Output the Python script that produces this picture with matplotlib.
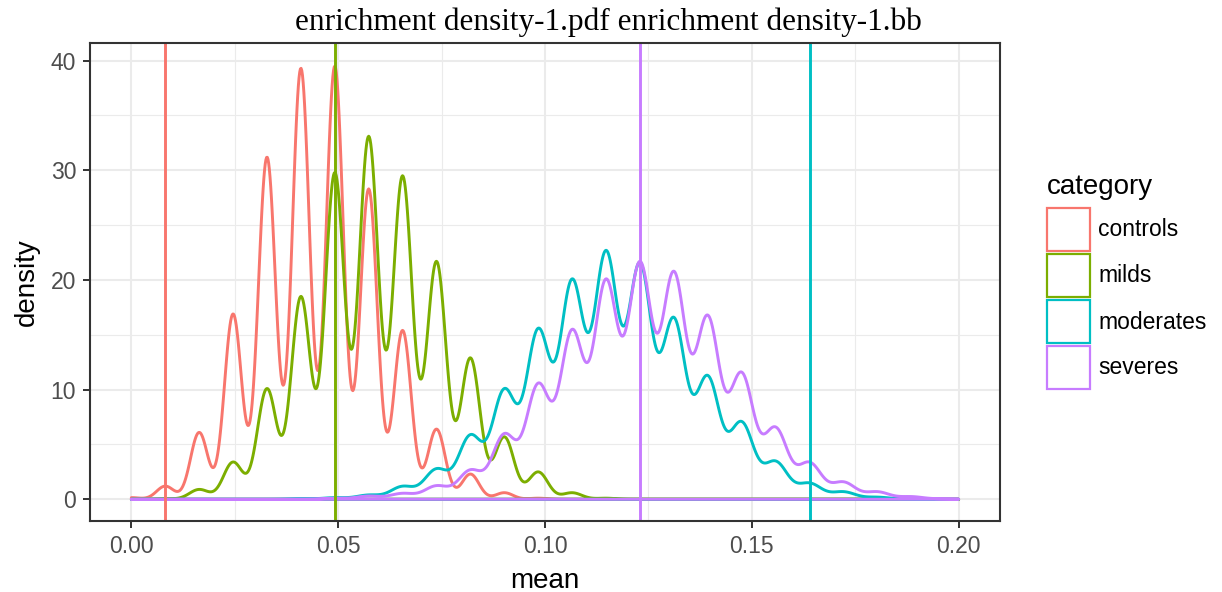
import numpy as np
import matplotlib
matplotlib.use("Agg")
import matplotlib.pyplot as plt
from matplotlib.patches import Rectangle

# curve height read at each peak (peaks sit on a grid of k/122)
categories = ["controls", "milds", "moderates", "severes"]
colors = ["#F8766D", "#7CAE00", "#00BFC4", "#C77CFF"]

controls_k = [0, 1, 2, 3, 4, 5, 6, 7, 8, 9, 10, 11, 12]
controls_y = [0.15, 1.2, 6.1, 16.9, 31.2, 39.3, 39.5, 28.3, 15.4, 6.4, 2.3, 0.6, 0.1]

milds_k = [1, 2, 3, 4, 5, 6, 7, 8, 9, 10, 11, 12, 13, 14]
milds_y = [0.05, 0.9, 3.4, 10.1, 18.5, 29.8, 33.1, 29.5, 21.7, 12.9, 5.7, 2.5, 0.6, 0.1]

moderates_k = [5, 6, 7, 8, 9, 10, 11, 12, 13, 14, 15, 16, 17, 18, 19, 20, 21, 22, 23]
moderates_y = [0.05, 0.15, 0.4, 1.2, 2.8, 5.9, 10.1, 15.6, 20.1, 22.7, 21.6, 16.6,
               11.3, 7.1, 3.5, 1.5, 0.7, 0.2, 0.05]

severes_k = [6, 7, 8, 9, 10, 11, 12, 13, 14, 15, 16, 17, 18, 19, 20, 21, 22, 23, 24]
severes_y = [0.1, 0.3, 0.55, 1.25, 2.7, 6.0, 10.6, 15.5, 20.1, 21.7, 20.8, 16.8,
             11.6, 6.6, 3.4, 1.6, 0.7, 0.25, 0.05]

# kernel width per group (each group gets its own bandwidth)
bandwidths = [0.0021, 0.00235, 0.0029, 0.0029]

# vertical reference lines
vline_x = [0.0082, 0.0492, 0.164, 0.123]

step = 1 / 122
xs = np.linspace(0, 0.2, 1200)


def density_curve(ks, ys, h):
    centers = np.array(ks) * step
    M = np.exp(-(centers[:, None] - centers[None, :]) ** 2 / (2 * h ** 2))
    amps = np.linalg.solve(M, np.array(ys))
    return (amps[None, :] * np.exp(-(xs[:, None] - centers[None, :]) ** 2 / (2 * h ** 2))).sum(axis=1)


groups = [(controls_k, controls_y), (milds_k, milds_y),
          (moderates_k, moderates_y), (severes_k, severes_y)]

plt.rcParams['font.family'] = ['Liberation Sans', 'DejaVu Sans']

fig = plt.figure(figsize=(12.22, 5.92), dpi=100)
ax = fig.add_axes([90 / 1222, 1 - 521 / 592, 910 / 1222, 478 / 592])

# outline of each density area, closed along y = 0 like geom_density
for (ks, ys), h, c in zip(groups, bandwidths, colors):
    dens = density_curve(ks, ys, h)
    px = np.concatenate([xs, [xs[-1], xs[0]]])
    py = np.concatenate([dens, [0, 0]])
    ax.fill(px, py, facecolor='none', edgecolor=c, lw=2.1, joinstyle='round')

for x, c in zip(vline_x, colors):
    ax.axvline(x, color=c, lw=2.1)

ax.set_xlim(-0.01, 0.21)
ax.set_ylim(-1.98, 41.6)
ax.set_xticks([0, 0.05, 0.1, 0.15, 0.2])
ax.set_xticklabels(["0.00", "0.05", "0.10", "0.15", "0.20"])
ax.set_xticks([0.025, 0.075, 0.125, 0.175], minor=True)
ax.set_yticks([0, 10, 20, 30, 40])
ax.set_yticks([5, 15, 25, 35], minor=True)

ax.grid(which='major', color='#EBEBEB', lw=1.5)
ax.grid(which='minor', color='#EBEBEB', lw=0.8)
ax.set_axisbelow(True)
ax.tick_params(which='major', length=5, width=1.4, color='#333333',
               labelsize=16.5, labelcolor='#4D4D4D', pad=5)
ax.tick_params(which='minor', length=0)
for s in ax.spines.values():
    s.set_color('#333333')
    s.set_linewidth(1.5)

ax.set_xlabel("mean", fontsize=20, labelpad=7)
ax.set_ylabel("density", fontsize=20, labelpad=8)

fig.text(608 / 1222, 1 - 22 / 592, "enrichment density-1.pdf enrichment density-1.bb",
         family=['Liberation Serif', 'DejaVu Serif'], fontsize=22.5, ha='center', va='center')

# legend
fig.text(1047 / 1222, 1 - 187 / 592, "category", fontsize=20, ha='left', va='center')
for i, (name, c) in enumerate(zip(categories, colors)):
    top = 208 + i * 46
    fig.add_artist(Rectangle((1047 / 1222, 1 - (top + 43) / 592), 43 / 1222, 43 / 592,
                             transform=fig.transFigure, facecolor='white', edgecolor=c, lw=1.6))
    fig.text(1098 / 1222, 1 - (top + 22) / 592, name, fontsize=16.5, ha='left', va='center')

fig.savefig("out.png", dpi=100)
